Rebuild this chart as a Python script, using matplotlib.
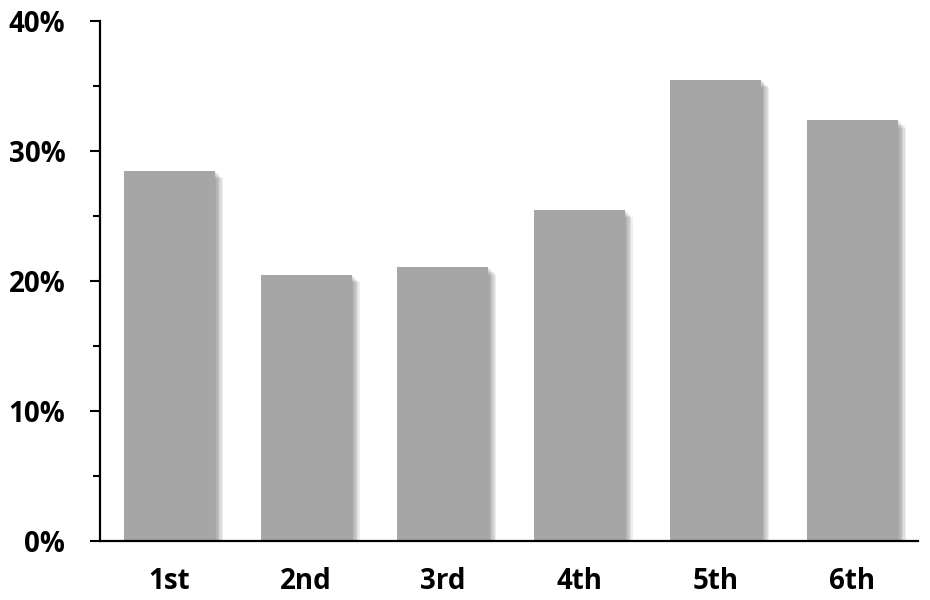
import numpy as np
import matplotlib
matplotlib.use("Agg")
import matplotlib.pyplot as plt
from matplotlib import patheffects as pe
from matplotlib.ticker import MultipleLocator, PercentFormatter

# data
categories = ["1st", "2nd", "3rd", "4th", "5th", "6th"]
shares = [28.5, 20.5, 21.1, 25.5, 35.5, 32.4]

plt.rcParams['font.family'] = ['Open Sans', 'DejaVu Sans']
plt.rcParams['font.weight'] = 'bold'

fig = plt.figure(figsize=(9.3, 6), dpi=100)
ax = fig.add_axes([0.1075, 0.0983, 0.8795, 0.8667])

# soft drop shadow built from stacked, shifted copies
shadow = [pe.SimplePatchShadow(offset=(k * 0.95, -k * 0.95), shadow_rgbFace='black', alpha=0.065)
          for k in range(1, 7)]
x = np.arange(len(categories))
ax.bar(x, shares, width=0.667, color='#a6a6a6', zorder=2,
       path_effects=shadow + [pe.Normal()])

ax.set_xlim(-0.51, 5.48)
ax.set_ylim(0, 40)
ax.yaxis.set_major_locator(MultipleLocator(10))
ax.yaxis.set_minor_locator(MultipleLocator(5))
ax.yaxis.set_major_formatter(PercentFormatter(decimals=0))

ax.set_xticks(x)
ax.set_xticklabels(categories)
ax.tick_params(axis='x', length=0, pad=19, labelsize=20)
ax.tick_params(axis='y', which='major', length=7, width=1.5, pad=18, labelsize=20)
ax.tick_params(axis='y', which='minor', length=5, width=1.5)

for s in ['top', 'right']:
    ax.spines[s].set_visible(False)
for s in ['left', 'bottom']:
    ax.spines[s].set_linewidth(1.6)

fig.savefig("out.png", dpi=100)
